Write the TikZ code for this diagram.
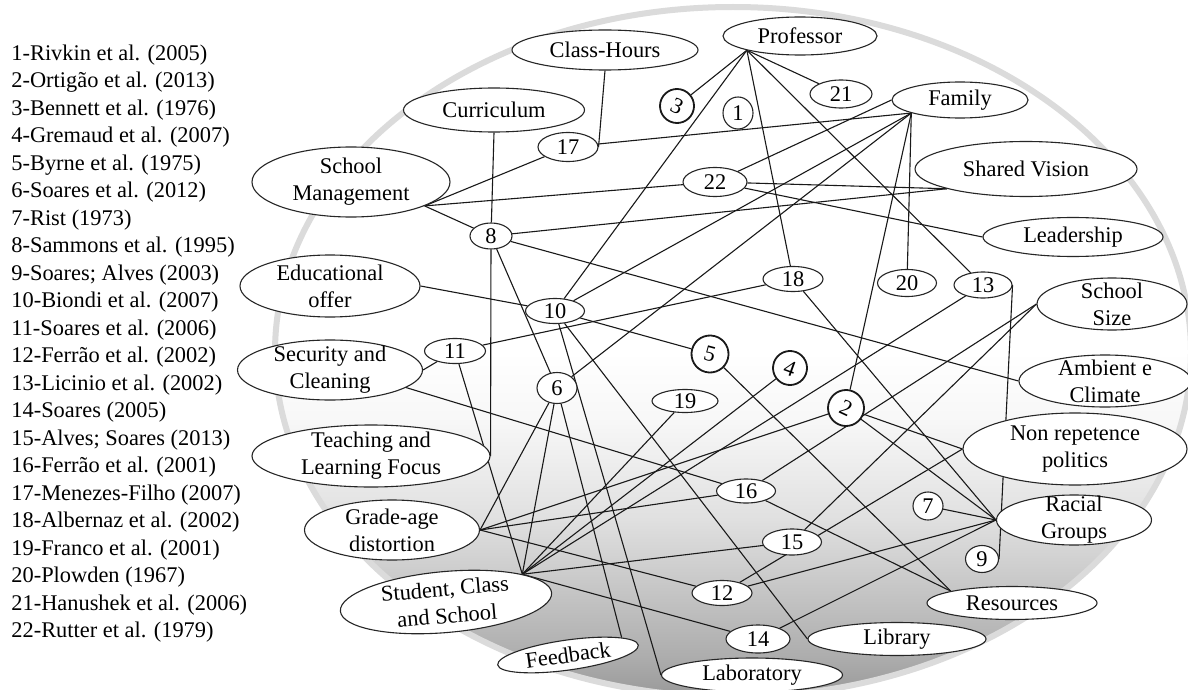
\documentclass[tikz,border=0pt]{standalone}
\usepackage{fontspec}
\setmainfont{Liberation Serif}
\usetikzlibrary{shapes.geometric}
\pgfdeclarelayer{bg}
\pgfdeclarelayer{edges}
\pgfsetlayers{bg,edges,main}
\pgfdeclareverticalshading{bgshade}{100bp}{color(0bp)=(black!40); color(25bp)=(black!40); color(28bp)=(black!32); color(32bp)=(black!24); color(38bp)=(black!12); color(45bp)=(black!3); color(50bp)=(white); color(100bp)=(white)}
\tikzset{
  el/.style={ellipse, draw=black!85, line width=0.55pt, fill=white, inner sep=-4pt, align=center, font=\fontsize{11.2}{13.5}\selectfont},
  num/.style={ellipse, draw=black!85, line width=0.55pt, fill=white, inner sep=0pt, font=\fontsize{11.2}{13.5}\selectfont},
  circ/.style={circle, draw=black!90, line width=0.9pt, fill=white, inner sep=0pt, font=\fontsize{11.2}{13.5}\selectfont},
  edge/.style={draw=black!90, line width=0.55pt},
  legend/.style={anchor=west, inner sep=0pt, font=\fontsize{11.2}{13.5}\selectfont},
}
\begin{document}
\begin{tikzpicture}[x=0.5pt,y=-0.5pt]
\useasboundingbox (0,0) rectangle (1188,690);
\begin{pgfonlayer}{bg}
\clip (0,0) rectangle (1188,690);
\fill[white] (0,0) rectangle (1188,690);
\shade[shading=bgshade] (733,352) ellipse [x radius=229pt, y radius=172.5pt];
\draw[black!14, line width=3pt] (733,352) ellipse [x radius=229pt, y radius=172.5pt];
\end{pgfonlayer}

% legend
\foreach \t [count=\i] in {1-Rivkin et al. (2005), 2-Ortigão et al. (2013), 3-Bennett et al. (1976), 4-Gremaud et al. (2007), 5-Byrne et al. (1975), 6-Soares et al. (2012), 7-Rist (1973), 8-Sammons  et al. (1995), 9-Soares; Alves (2003), 10-Biondi et al. (2007), 11-Soares et al. (2006), 12-Ferrão et al. (2002), 13-Licinio et al. (2002), 14-Soares (2005), 15-Alves; Soares (2013), 16-Ferrão et al. (2001), 17-Menezes-Filho (2007), 18-Albernaz et al. (2002), 19-Franco et al. (2001), 20-Plowden (1967), 21-Hanushek et al. (2006), 22-Rutter et al. (1979)}
  \node[legend] (leg\i) at (11,{55+27.5*(\i-1)}) {\t};

% concept nodes
\node[el, minimum width=77pt, minimum height=19pt] (prof) at (800,36) {Professor};
\node[el, minimum width=93pt, minimum height=20pt] (ch) at (605,50) {Class-Hours};
\node[el, minimum width=90.5pt, minimum height=22pt] (cur) at (494,110) {Curriculum};
\node[el, minimum width=68pt, minimum height=18pt] (fam) at (960,100) {Family};
\node[el, minimum width=99pt, minimum height=35pt] (sm) at (351,182) {School\\Management};
\node[el, minimum width=111pt, minimum height=27.5pt] (sv) at (1026,169) {Shared Vision};
\node[el, minimum width=90pt, minimum height=19.5pt] (lead) at (1073,237) {Leadership};
\node[el, minimum width=90pt, minimum height=31pt] (edu) at (330,286) {Educational\\offer};
\node[el, minimum width=75pt, minimum height=26pt] (ss) at (1112,304) {School\\Size};
\node[el, minimum width=92.5pt, minimum height=30pt] (sec) at (330,370) {Security and\\Cleaning};
\node[el, minimum width=86pt, minimum height=26pt] (amb) at (1105,381) {Ambient e\\Climate};
\node[el, minimum width=119pt, minimum height=31pt] (teach) at (371,456) {Teaching and\\Learning Focus};
\node[el, minimum width=112pt, minimum height=36pt] (nr) at (1075,449) {Non repetence\\politics};
\node[el, minimum width=87.5pt, minimum height=30pt] (grade) at (392,530) {Grade-age\\distortion};
\node[el, minimum width=77.5pt, minimum height=25pt] (rac) at (1074,520) {Racial\\Groups};
\node[el, rotate=5, minimum width=106pt, minimum height=30.5pt] (stu) at (446,602) {Student, Class\\and School};
\node[el, minimum width=85pt, minimum height=16.5pt] (res) at (1012,603) {Resources};
\node[el, minimum width=89pt, minimum height=16.5pt] (lib) at (897,639) {Library};
\node[el, minimum width=90.5pt, minimum height=17pt] (lab) at (752,675) {Laboratory};
\node[el, rotate=8, minimum width=71pt, minimum height=15pt] (fb) at (568,655) {Feedback};

% numbered nodes
\node[num, minimum width=15pt, minimum height=16pt] (n1) at (738,113) {1};
\node[circ, rotate=-25, minimum size=18pt] (n2) at (846,408) {2};
\node[circ, rotate=-25, minimum size=17pt] (n3) at (677,106) {3};
\node[circ, rotate=-20, minimum size=17pt] (n4) at (790,368) {4};
\node[circ, rotate=-15, minimum size=18.5pt] (n5) at (710,354) {5};
\node[num, minimum width=20pt, minimum height=15.5pt] (n6) at (557,388) {6};
\node[num, minimum width=15pt, minimum height=14pt] (n7) at (928,506) {7};
\node[num, minimum width=21pt, minimum height=13pt] (n8) at (491,236) {8};
\node[num, minimum width=16.5pt, minimum height=13.5pt] (n9) at (982,559) {9};
\node[num, minimum width=29.5pt, minimum height=12.5pt] (n10) at (555,311) {10};
\node[num, minimum width=30.5pt, minimum height=12.5pt] (n11) at (455,351) {11};
\node[num, minimum width=30pt, minimum height=12.5pt] (n12) at (722,593) {12};
\node[num, minimum width=29pt, minimum height=13pt] (n13) at (983,285) {13};
\node[num, minimum width=32pt, minimum height=14pt] (n14) at (758,639) {14};
\node[num, minimum width=29.5pt, minimum height=13pt] (n15) at (792,542) {15};
\node[num, minimum width=29.5pt, minimum height=12pt] (n16) at (746,491) {16};
\node[num, minimum width=30pt, minimum height=14.5pt] (n17) at (568,147) {17};
\node[num, minimum width=30pt, minimum height=12.5pt] (n18) at (793,279) {18};
\node[num, minimum width=33pt, minimum height=11.5pt] (n19) at (685,401) {19};
\node[num, minimum width=29.5pt, minimum height=13.5pt] (n20) at (907,283) {20};
\node[num, minimum width=31pt, minimum height=14pt] (n21) at (841,94) {21};
\node[num, minimum width=32pt, minimum height=14.5pt] (n22) at (715,182) {22};

\begin{pgfonlayer}{edges}
\draw[edge] (prof.195) -- (n3);
\draw[edge] (prof.195) -- (n21);
\draw[edge] (prof.195) -- (n10);
\draw[edge] (prof.195) -- (n18);
\draw[edge] (prof.195) -- (n13);
\draw[edge] (fam.195) -- (n17);
\draw[edge] (fam.west) -- (n22);
\draw[edge] (fam.195) -- (n10);
\draw[edge] (fam.195) -- (n6);
\draw[edge] (fam.195) -- (n2);
\draw[edge] (fam.195) -- (n20);
\draw[edge] (ch.south) -- (n17.east);
\draw[edge] (cur.south) -- (n8);
\draw[edge] (sm.342) -- (n17);
\draw[edge] (sm.342) -- (n22);
\draw[edge] (sm.342) -- (n8);
\draw[edge] (n22) -- (sv.194);
\draw[edge] (n22) -- (lead.west);
\draw[edge] (n8) -- (sv.194);
\draw[edge] (n8) -- (amb.west);
\draw[edge] (n8) -- (n6);
\draw[edge] (n8) -- (teach.east);
\draw[edge] (edu.east) -- (n10);
\draw[edge] (n10) -- (n5);
\draw[edge] (n10) -- (lab.west);
\draw[edge] (n10) -- (lib.west);
\draw[edge] (n5) -- (res.169);
\draw[edge] (sec.east) -- (n11);
\draw[edge] (sec.347) -- (n16);
\draw[edge] (n11) -- (n18);
\draw[edge] (n11) -- (stu.15);
\draw[edge] (n18) -- (rac.west);
\draw[edge] (n13.east) -- (n9.east);
\draw[edge] (n13) -- (stu.15);
\draw[edge] (n6) -- (grade.east);
\draw[edge] (n6) -- (stu.15);
\draw[edge] (n6) -- (fb.10);
\draw[edge] (n19) -- (stu.15);
\draw[edge] (n4) -- (stu.15);
\draw[edge] (n2) -- (grade.east);
\draw[edge] (n2) -- (nr.west);
\draw[edge] (n2) -- (rac.west);
\draw[edge] (grade.east) -- (n16);
\draw[edge] (n16) -- (res.169);
\draw[edge] (n16) -- (ss.west);
\draw[edge] (stu.15) -- (n15);
\draw[edge] (n15) -- (ss.west);
\draw[edge] (grade.east) -- (n12);
\draw[edge] (n12) -- (nr.west);
\draw[edge] (n12) -- (rac.west);
\draw[edge] (stu.15) -- (n14);
\draw[edge] (n14) -- (rac.west);
\draw[edge] (n7) -- (rac.west);
\end{pgfonlayer}
\end{tikzpicture}
\end{document}
